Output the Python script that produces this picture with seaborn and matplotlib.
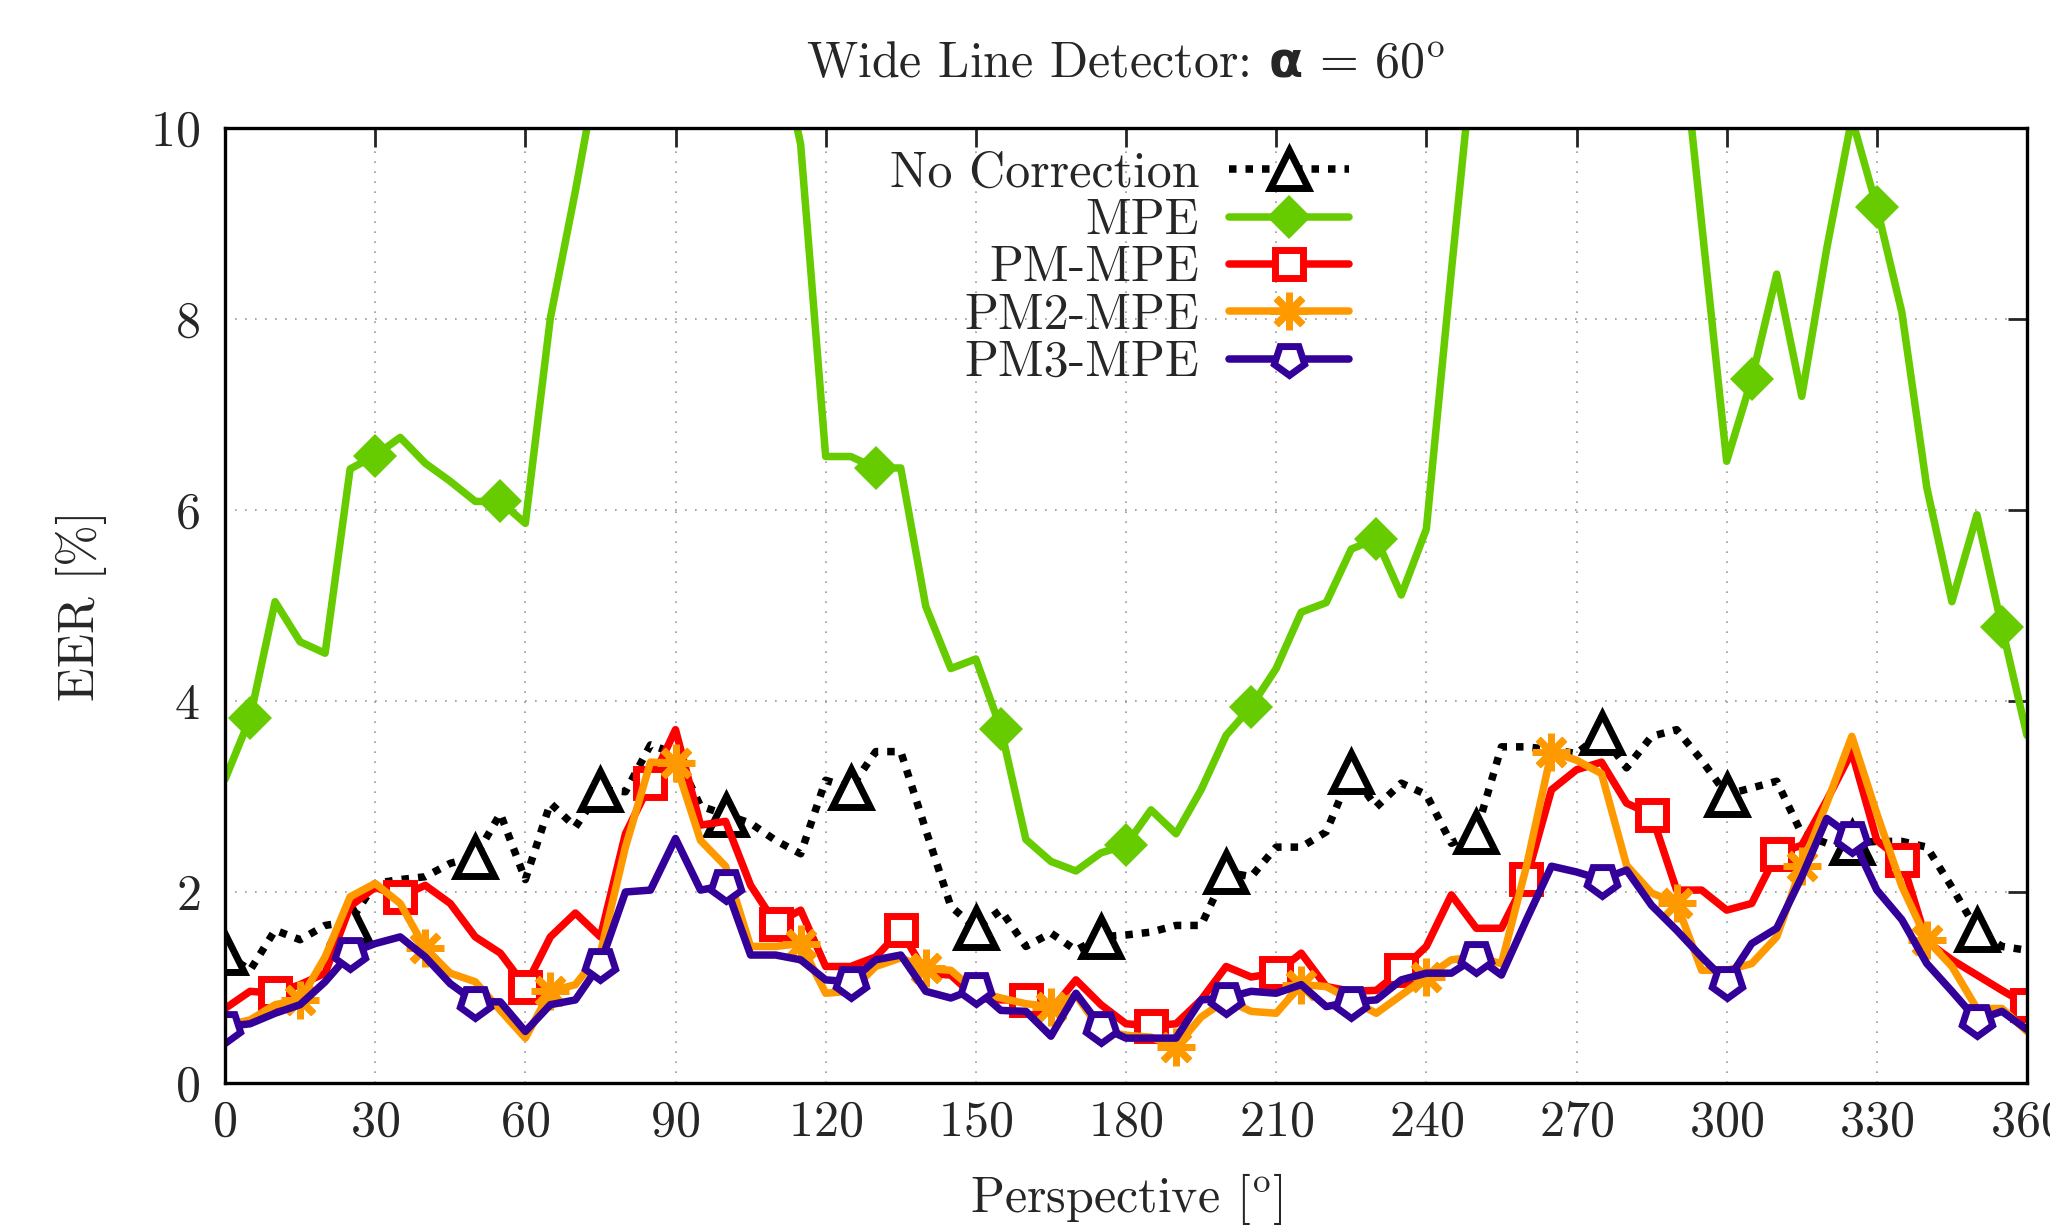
import numpy as np
import pandas as pd
import matplotlib
matplotlib.use('Agg')
import matplotlib.pyplot as plt
import seaborn as sns

# perspective angles, 5 degree steps
angles = list(range(0, 365, 5))

no_correction = [1.36, 1.18, 1.60, 1.50, 1.65, 1.69, 2.09, 2.13, 2.16, 2.30, 2.37, 2.82, 2.13, 2.93, 2.68,
                 3.07, 3.05, 3.54, 3.45, 2.90, 2.81, 2.72, 2.54, 2.40, 3.17, 3.09, 3.47, 3.47, 2.65, 1.85,
                 1.62, 1.81, 1.43, 1.57, 1.39, 1.53, 1.55, 1.58, 1.65, 1.65, 2.21, 2.16, 2.47, 2.47, 2.63,
                 3.26, 2.89, 3.14, 3.02, 2.51, 2.63, 3.52, 3.52, 3.49, 3.45, 3.66, 3.30, 3.63, 3.70, 3.38,
                 3.02, 3.09, 3.16, 2.61, 2.51, 2.51, 2.53, 2.53, 2.47, 2.05, 1.60, 1.43, 1.39]
mpe = [3.18, 3.82, 5.04, 4.62, 4.50, 6.43, 6.57, 6.76, 6.49, 6.30, 6.09, 6.09, 5.86, 8.01, 9.34,
       10.77, 12.0, 13.0, 13.5, 13.0, 12.5, 12.0, 11.05, 9.83, 6.56, 6.56, 6.44, 6.44, 4.99, 4.34,
       4.44, 3.71, 2.55, 2.32, 2.22, 2.41, 2.49, 2.86, 2.61, 3.07, 3.64, 3.94, 4.34, 4.93, 5.03,
       5.59, 5.70, 5.11, 5.80, 8.50, 11.1, 12.0, 13.0, 13.5, 13.0, 12.5, 12.0, 11.8, 11.5, 9.0,
       6.51, 7.37, 8.47, 7.19, 8.74, 10.1, 9.17, 8.07, 6.23, 5.04, 5.95, 4.77, 3.64]
pm_mpe = [0.78, 0.96, 0.94, 1.03, 1.15, 1.85, 2.05, 1.95, 2.07, 1.88, 1.53, 1.36, 1.01, 1.53, 1.78,
          1.53, 2.61, 3.14, 3.70, 2.70, 2.74, 2.07, 1.67, 1.81, 1.22, 1.22, 1.32, 1.60, 1.15, 1.13,
          0.89, 0.87, 0.87, 0.76, 1.08, 0.82, 0.62, 0.60, 0.62, 0.87, 1.22, 1.11, 1.15, 1.36, 1.01,
          0.96, 0.97, 1.18, 1.43, 1.97, 1.62, 1.62, 2.14, 3.07, 3.28, 3.36, 2.93, 2.81, 2.02, 2.02,
          1.81, 1.88, 2.40, 2.49, 2.96, 3.47, 2.54, 2.33, 1.48, 1.29, 1.13, 0.97, 0.82]
pm2_mpe = [0.60, 0.66, 0.82, 0.87, 1.32, 1.95, 2.09, 1.88, 1.41, 1.15, 1.06, 0.76, 0.47, 0.96, 1.03,
           1.36, 2.47, 3.36, 3.35, 2.54, 2.27, 1.43, 1.43, 1.46, 0.94, 0.96, 1.22, 1.31, 1.20, 1.18,
           0.96, 0.89, 0.83, 0.80, 0.92, 0.55, 0.50, 0.48, 0.38, 0.69, 0.87, 0.75, 0.73, 1.03, 1.01,
           0.87, 0.73, 0.92, 1.11, 1.29, 1.32, 1.25, 2.27, 3.47, 3.38, 3.24, 2.28, 1.99, 1.88, 1.18,
           1.18, 1.25, 1.53, 2.27, 2.93, 3.63, 2.82, 2.06, 1.50, 1.22, 0.78, 0.78, 0.54]
pm3_mpe = [0.59, 0.62, 0.73, 0.82, 1.06, 1.36, 1.46, 1.53, 1.32, 1.04, 0.85, 0.85, 0.54, 0.82, 0.87,
           1.25, 2.00, 2.02, 2.56, 2.02, 2.07, 1.34, 1.34, 1.29, 1.08, 1.06, 1.29, 1.34, 0.96, 0.89,
           0.99, 0.76, 0.75, 0.49, 0.94, 0.59, 0.47, 0.47, 0.47, 0.87, 0.89, 0.96, 0.94, 1.03, 0.80,
           0.85, 0.87, 1.08, 1.15, 1.15, 1.32, 1.13, 1.71, 2.27, 2.21, 2.13, 2.23, 1.86, 1.60, 1.32,
           1.06, 1.46, 1.62, 2.16, 2.77, 2.58, 2.02, 1.71, 1.25, 0.96, 0.66, 0.75, 0.56]

df = pd.DataFrame({'angle': angles, 'No Correction': no_correction, 'MPE': mpe,
                   'PM-MPE': pm_mpe, 'PM2-MPE': pm2_mpe, 'PM3-MPE': pm3_mpe})

sns.set_style('white')
plt.rcParams.update({
    'font.family': ['cmr10', 'DejaVu Serif'],
    'mathtext.fontset': 'custom',
    'mathtext.rm': 'cmr10',
    'mathtext.it': 'cmmi10',
    'mathtext.bf': 'DejaVu Sans:bold',
    'axes.formatter.use_mathtext': True,
    'font.size': 36,
    'axes.unicode_minus': False,
})

fig = plt.figure(figsize=(20.5, 12.25), dpi=100)
ax = fig.add_axes([225 / 2050, 1 - 1083 / 1225, (2027 - 225) / 2050, (1083 - 128) / 1225])

# (column, color, linestyle, marker, marker size, face, markevery offset)
styles = [
    ('No Correction', '#000000', (0, (1.0, 1.2)), '^', 27, 'white', 0),
    ('MPE', '#66cc00', '-', 'D', 22, '#66cc00', 1),
    ('PM-MPE', '#ff0000', '-', 's', 20, 'white', 2),
    ('PM2-MPE', '#ff9900', '-', (8, 2, 0), 27, '#ff9900', 3),
    ('PM3-MPE', '#330099', '-', (5, 0, 180), 23, 'white', 0),
]
for col, c, ls, mk, ms, mfc, off in styles:
    sns.lineplot(data=df, x='angle', y=col, ax=ax, color=c, label=col)
    ln = ax.lines[-1]
    ln.set_linestyle(ls)
    ln.set_linewidth(5.4)
    ln.set_dash_capstyle('butt')
    ln.set_marker(mk)
    ln.set_markersize(ms)
    ln.set_markerfacecolor(mfc)
    ln.set_markeredgecolor(c)
    ln.set_markeredgewidth(5.0 if mfc == 'white' or col == 'PM2-MPE' else 0.0)
    ln.set_markevery((off, 5))

ax.set_xlim(0, 360)
ax.set_ylim(0, 10)
ax.set_xticks(range(0, 361, 30))
ax.set_yticks(range(0, 11, 2))
ax.grid(True, color='#999999', linestyle=(0, (1, 5)), lw=1.2)
ax.tick_params(direction='in', length=14, width=2, top=True, right=True, labelsize=36)
ax.tick_params(axis='x', pad=12)
ax.tick_params(axis='y', pad=18)
for s in ax.spines.values():
    s.set_linewidth(2.4)
    s.set_color('black')

ax.set_xlabel(r'Perspective [$^{\mathrm{o}}$]', fontsize=36, labelpad=18)
ax.set_ylabel('EER [%]', fontsize=36, labelpad=31)
ax.set_title(r'Wide Line Detector: $\mathbf{\alpha}$ = 60$^{\mathrm{o}}$', fontsize=36, pad=37)

ax.legend(loc='upper right', bbox_to_anchor=(0.635, 0.997), frameon=False, markerfirst=False,
          fontsize=36, handlelength=2.4, handletextpad=0.6, labelspacing=0.03,
          borderaxespad=0)

fig.savefig('out.png', dpi=100)
